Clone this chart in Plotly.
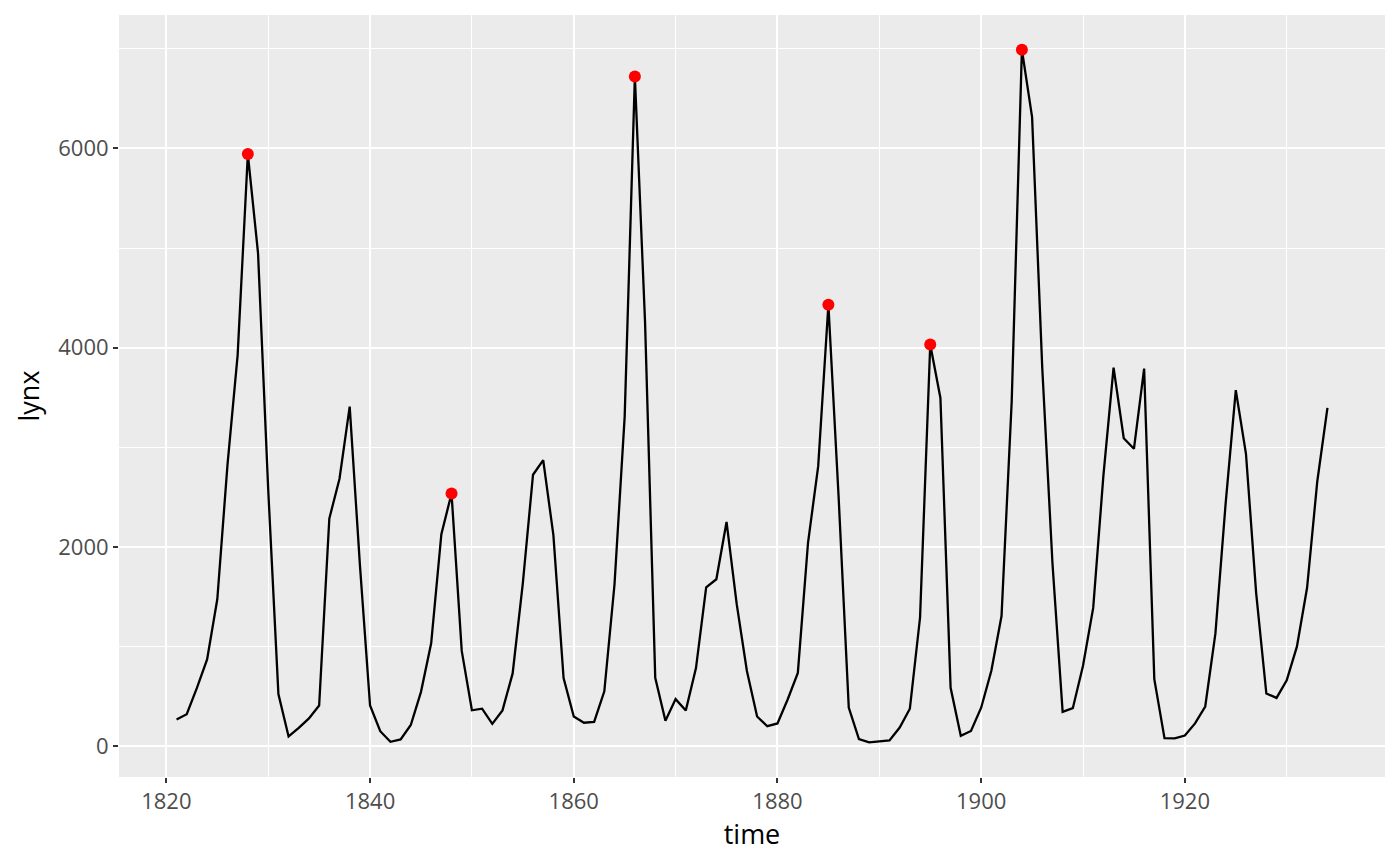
import plotly.graph_objects as go

# lynx trappings, 1821-1934
years = list(range(1821, 1935))
lynx = [269, 321, 585, 871, 1475, 2821, 3928, 5943, 4950, 2577,
        523, 98, 184, 279, 409, 2285, 2685, 3409, 1824, 409,
        151, 45, 68, 213, 546, 1033, 2129, 2536, 957, 361,
        377, 225, 360, 731, 1638, 2725, 2871, 2119, 684, 299,
        236, 245, 552, 1623, 3311, 6721, 4254, 687, 255, 473,
        358, 784, 1594, 1676, 2251, 1426, 756, 299, 201, 229,
        469, 736, 2042, 2811, 4431, 2511, 389, 73, 39, 49,
        59, 188, 377, 1292, 4031, 3495, 587, 105, 153, 387,
        758, 1307, 3465, 6991, 6313, 3794, 1836, 345, 382, 808,
        1388, 2713, 3800, 3091, 2985, 3790, 674, 81, 80, 108,
        229, 399, 1132, 2432, 3574, 2935, 1537, 529, 485, 662,
        1000, 1590, 2657, 3396]

peak_years = [1828, 1848, 1866, 1885, 1895, 1904]
peak_values = [5943, 2536, 6721, 4431, 4031, 6991]

xticks = [1820, 1840, 1860, 1880, 1900, 1920]
yticks = [0, 2000, 4000, 6000]

fig = go.Figure()
fig.add_trace(go.Scatter(x=years, y=lynx, mode='lines',
                         line=dict(color='black', width=2.3), showlegend=False))
fig.add_trace(go.Scatter(x=peak_years, y=peak_values, mode='markers',
                         marker=dict(color='red', size=12), showlegend=False))

axis_common = dict(
    showgrid=True, gridcolor='white', gridwidth=2.4,
    zeroline=False, showline=False,
    ticks='outside', ticklen=5, tickwidth=2.2, tickcolor='#333333',
    tickfont=dict(size=22, color='#4D4D4D'),
)

# the page body adds an 8px offset, so the figure is shrunk by that much
fig.update_layout(
    width=1392, height=858,
    margin=dict(l=111, r=15, t=7, b=89),
    paper_bgcolor='white', plot_bgcolor='#EBEBEB',
    font=dict(family='Open Sans, Noto Sans, sans-serif', color='black'),
)
fig.update_xaxes(
    **axis_common,
    range=[1815.35, 1939.65],
    tickvals=xticks,
    minor=dict(dtick=10, tick0=1810, showgrid=True, gridcolor='white', gridwidth=1.2, ticks=''),
    title=dict(text='time', font=dict(size=27), standoff=4),
)
fig.update_yaxes(
    **axis_common,
    range=[-308.6, 7338.6],
    tickvals=yticks,
    minor=dict(dtick=1000, tick0=0, showgrid=True, gridcolor='white', gridwidth=1.2, ticks=''),
    title=dict(text='lynx', font=dict(size=27), standoff=10),
)

fig.write_html("out.html")
